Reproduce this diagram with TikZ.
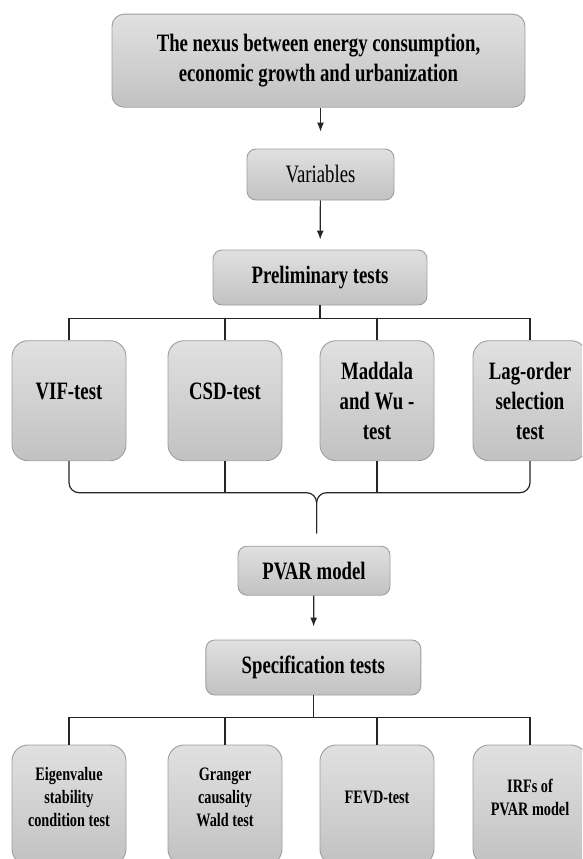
\documentclass[tikz,border=0pt]{standalone}
\usepackage{fontspec}
\setmainfont[FakeStretch=0.75]{Liberation Serif}
\usepackage{tikz}
\usetikzlibrary{arrows.meta,calc,shapes}
\newcommand{\clrtop}{black!12}
\newcommand{\clrbot}{black!24}
\newcommand{\clredge}{black!38}
\newcommand{\clrline}{black!85}

\tikzset{
  box/.style={draw=\clredge, line width=0.9pt, rounded corners=9pt, top color=\clrtop, bottom color=\clrbot,
    align=center, inner sep=2pt, font=\fontsize{25}{30}\selectfont\bfseries},
  tallbox/.style={box, rounded corners=16pt, minimum width=114pt, minimum height=120pt},
  lowbox/.style={tallbox, text depth=16pt, font=\fontsize{19}{23.3}\selectfont\bfseries},
  link/.style={draw=\clrline, line width=1.2pt},
  arr/.style={link, -{Latex[length=9pt,width=7pt]}}
}

\begin{document}
\begin{tikzpicture}[x=1pt,y=-1pt]

    \useasboundingbox (0,0) rectangle (582,859);
    \clip (0,0) rectangle (582,859);

    \node[box, rounded corners=12pt, minimum width=413pt, minimum height=93pt] (nexus) at (318.5,60.7)
        {The nexus between energy consumption,\\economic growth and urbanization};
    \node[box, font=\fontsize{25}{30}\selectfont, minimum width=147pt, minimum height=51pt] (vars) at (320.5,174.5) {Variables};
    \node[box, minimum width=214pt, minimum height=55pt] (prelim) at (320,277.5) {Preliminary tests};

    \node[tallbox, text depth=18pt] (vif) at (69,400.7) {VIF-test};
    \node[tallbox, text depth=18pt] (csd) at (225,400.7) {CSD-test};
    \node[tallbox] (mw) at (377,400.7) {Maddala\\and Wu -\\test};
    \node[tallbox] (lag) at (530,400.7) {Lag-order\\selection\\test};

    \node[box, minimum width=152pt, minimum height=49pt] (pvar) at (314,570.7) {PVAR model};
    \node[box, minimum width=215pt, minimum height=55pt] (spec) at (313.3,667.5) {Specification tests};

    \node[lowbox] (eig) at (69,805) {Eigenvalue\\stability\\condition test};
    \node[lowbox] (gc) at (225,805) {Granger\\causality\\Wald test};
    \node[lowbox] (fevd) at (377,805) {FEVD-test};
    \node[lowbox] (irf) at (530,805) {IRFs of\\PVAR model};

    \draw[arr, shorten >=17pt] (vars.north |- nexus.south) -- (vars);
    \draw[arr, shorten >=10pt] (vars) -- (prelim);
    \draw[arr, shorten >=13pt] (pvar) -- (spec);

    % bus under the preliminary tests
    \draw[link] (prelim.south) -- ++(0,13.3) coordinate (bus1);
    \draw[link] (vif.north) |- (bus1) -| (lag.north);
    \foreach \n in {csd,mw}
        \draw[link] (\n.north) -- (\n.north |- bus1);

    % brace into the model
    \coordinate (tip) at (316.6,533.3);
    \coordinate (knee) at ($(tip)+(0,-40.6)$);
    \draw[link, rounded corners=10pt] (vif.south) |- (knee) -- (tip);
    \draw[link, rounded corners=10pt] (lag.south) |- (knee) -- (tip);
    \foreach \n in {csd,mw}
        \draw[link] (\n.south) -- (\n.south |- knee);

    % bus under the specification tests
    \draw[link] (spec.south) -- ++(0,22.3) coordinate (bus2);
    \draw[link] (eig.north) |- (bus2) -| (irf.north);
    \foreach \n in {gc,fevd}
        \draw[link] (\n.north) -- (\n.north |- bus2);

\end{tikzpicture}
\end{document}
